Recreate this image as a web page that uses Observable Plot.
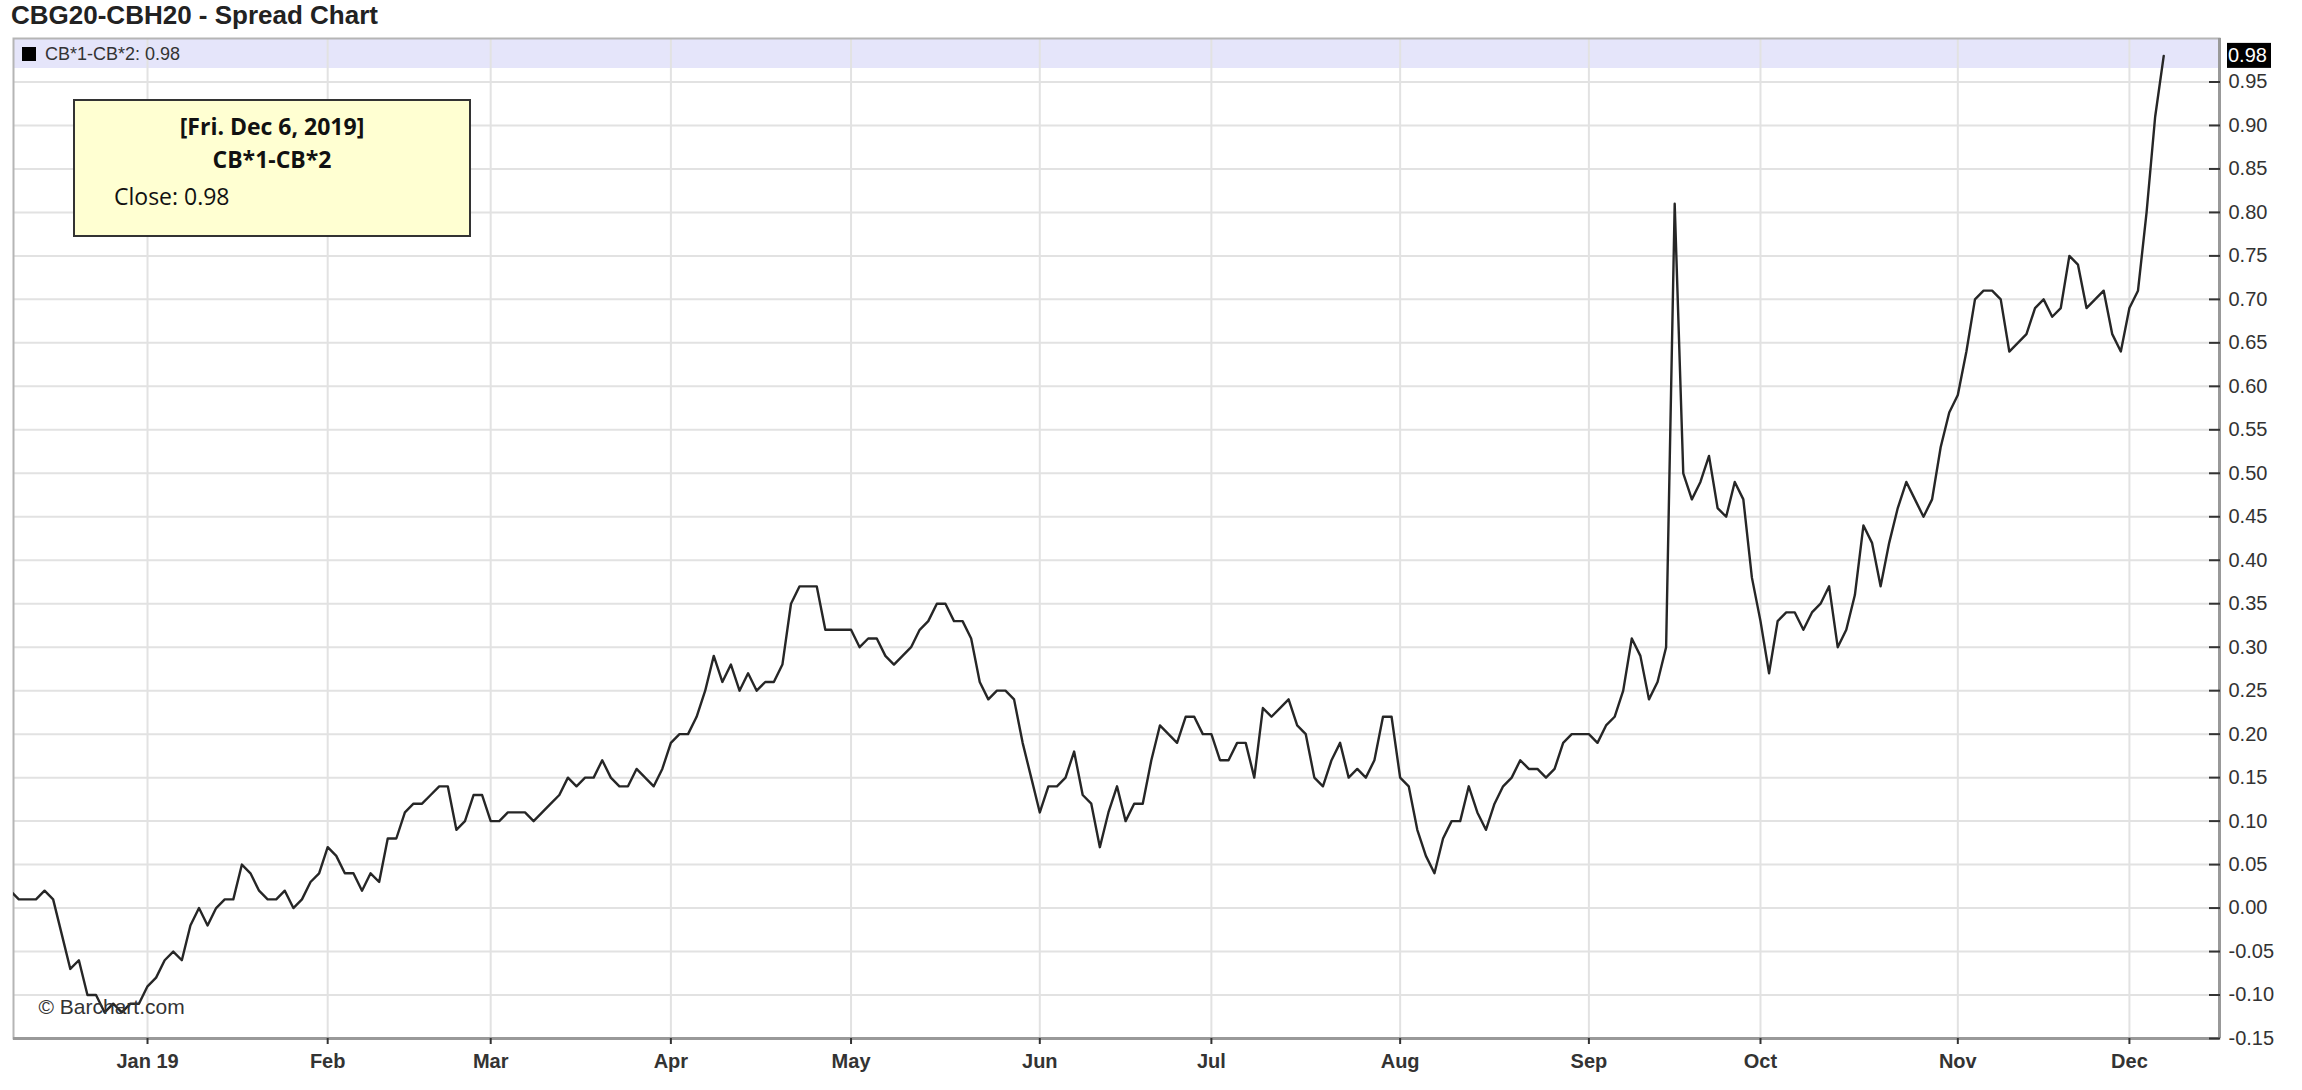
<!DOCTYPE html>
<html><head><meta charset="utf-8">
<script src="https://cdn.jsdelivr.net/npm/d3@7"></script>
<script src="https://cdn.jsdelivr.net/npm/@observablehq/plot@0.6"></script>
<style>
body{margin:0;background:#fff;width:2302px;height:1090px;position:relative;overflow:hidden;font-family:"Liberation Sans",Arial,sans-serif;}
#title{position:absolute;left:11px;top:0;height:30px;line-height:30px;font-size:26px;font-weight:bold;color:#222;white-space:nowrap;}
#chart{position:absolute;left:0;top:30px;}
#tip{position:absolute;left:73px;top:99px;width:394px;height:134px;background:#ffffd2;border:2px solid #333;font-family:"Open Sans",sans-serif;font-size:23px;color:#111;}
#tip div{position:absolute;left:0;right:0;height:30px;line-height:30px;white-space:nowrap;}
</style></head>
<body>
<div id="title"></div>
<div id="chart"></div>
<div id="tip"></div>
<script>
// ---- data ----
const chartTitle = "CBG20-CBH20 - Spread Chart";
const seriesName = "CB*1-CB*2";
const lastDate = "Fri. Dec 6, 2019";
const monthLabels = ["Jan 19","Feb","Mar","Apr","May","Jun","Jul","Aug","Sep","Oct","Nov","Dec"];
// trading-day index of the first session of each month (index 0 = Dec 7, 2018)
const monthStartIndex = [16,37,56,77,98,120,140,162,184,204,227,247];
const yTicks = [-0.15,-0.10,-0.05,0.00,0.05,0.10,0.15,0.20,0.25,0.30,0.35,0.40,0.45,0.50,0.55,0.60,0.65,0.70,0.75,0.80,0.85,0.90,0.95];
const yDomain = [-0.15, 1.0];
const xDomain = [0.38, 257.5];
// daily closes of the spread, one per trading day
const closesDec18 = [0.02,0.01,0.01,0.01,0.02,0.01,-0.03,-0.07,-0.06,-0.10,-0.10,-0.12,-0.11,-0.12,-0.11,-0.11];
const closesJan = [-0.09,-0.08,-0.06,-0.05,-0.06,-0.02,0.00,-0.02,0.00,0.01,0.01,0.05,0.04,0.02,0.01,0.01,0.02,0.00,0.01,0.03,0.04];
const closesFeb = [0.07,0.06,0.04,0.04,0.02,0.04,0.03,0.08,0.08,0.11,0.12,0.12,0.13,0.14,0.14,0.09,0.10,0.13,0.13];
const closesMar = [0.10,0.10,0.11,0.11,0.11,0.10,0.11,0.12,0.13,0.15,0.14,0.15,0.15,0.17,0.15,0.14,0.14,0.16,0.15,0.14,0.16];
const closesApr = [0.19,0.20,0.20,0.22,0.25,0.29,0.26,0.28,0.25,0.27,0.25,0.26,0.26,0.28,0.35,0.37,0.37,0.37,0.32,0.32,0.32];
const closesMay = [0.32,0.30,0.31,0.31,0.29,0.28,0.29,0.30,0.32,0.33,0.35,0.35,0.33,0.33,0.31,0.26,0.24,0.25,0.25,0.24,0.19,0.15];
const closesJun = [0.11,0.14,0.14,0.15,0.18,0.13,0.12,0.07,0.11,0.14,0.10,0.12,0.12,0.17,0.21,0.20,0.19,0.22,0.22,0.20];
const closesJul = [0.20,0.17,0.17,0.19,0.19,0.15,0.23,0.22,0.23,0.24,0.21,0.20,0.15,0.14,0.17,0.19,0.15,0.16,0.15,0.17,0.22,0.22];
const closesAug = [0.15,0.14,0.09,0.06,0.04,0.08,0.10,0.10,0.14,0.11,0.09,0.12,0.14,0.15,0.17,0.16,0.16,0.15,0.16,0.19,0.20,0.20];
const closesSep = [0.20,0.19,0.21,0.22,0.25,0.31,0.29,0.24,0.26,0.30,0.81,0.50,0.47,0.49,0.52,0.46,0.45,0.49,0.47,0.38];
const closesOct = [0.33,0.27,0.33,0.34,0.34,0.32,0.34,0.35,0.37,0.30,0.32,0.36,0.44,0.42,0.37,0.42,0.46,0.49,0.47,0.45,0.47,0.53,0.57];
const closesNov = [0.59,0.64,0.70,0.71,0.71,0.70,0.64,0.65,0.66,0.69,0.70,0.68,0.69,0.75,0.74,0.69,0.70,0.71,0.66,0.64];
const closesDec = [0.69,0.71,0.80,0.91,0.98];

const closes = [].concat(closesDec18, closesJan, closesFeb, closesMar, closesApr, closesMay,
  closesJun, closesJul, closesAug, closesSep, closesOct, closesNov, closesDec);
const series = closes.map((v, i) => ({i, v}));
const lastValue = closes[closes.length - 1];

// ---- decorations ----
function legendBand(index, scales, values, dims) {
  const g = d3.create("svg:g");
  g.append("rect")
    .attr("x", dims.marginLeft).attr("y", dims.marginTop)
    .attr("width", dims.width - dims.marginLeft - dims.marginRight).attr("height", 30)
    .attr("fill", "#e5e5fa");
  return g.node();
}
function legendText(index, scales, values, dims) {
  const g = d3.create("svg:g");
  const cy = dims.marginTop + 16;
  g.append("rect").attr("x", dims.marginLeft + 9).attr("y", cy - 7).attr("width", 14).attr("height", 14).attr("fill", "#000");
  g.append("text").attr("x", dims.marginLeft + 32).attr("y", cy).attr("dy", "0.35em")
    .attr("text-anchor", "start")
    .attr("fill", "#333").attr("font-size", 18).text(`${seriesName}: ${lastValue.toFixed(2)}`);
  return g.node();
}
function lastLabel(index, scales, values, dims) {
  const y = scales.y(lastValue);
  const x = dims.width - dims.marginRight + 9;
  const g = d3.create("svg:g");
  g.append("rect").attr("x", x - 1).attr("y", y - 12.5).attr("width", 44).attr("height", 25).attr("fill", "#000");
  g.append("text").attr("x", x).attr("y", y).attr("dy", "0.35em").attr("fill", "#fff")
    .attr("text-anchor", "start")
    .attr("font-size", 20).text(lastValue.toFixed(2));
  return g.node();
}

const plot = Plot.plot({
  width: 2302, height: 1060,
  marginTop: 8, marginBottom: 52, marginLeft: 13, marginRight: 83,
  style: {fontFamily: '"Liberation Sans", Arial, sans-serif', fontSize: "20px", color: "#333", background: "transparent", overflow: "visible"},
  x: {type: "linear", domain: xDomain, axis: null},
  y: {domain: yDomain, axis: null},
  marks: [
    legendBand,
    Plot.gridY(yTicks, {stroke: "#e2e2e2", strokeOpacity: 1, strokeWidth: 2}),
    Plot.gridX(monthStartIndex, {stroke: "#e2e2e2", strokeOpacity: 1, strokeWidth: 2}),
    Plot.frame({stroke: "#b5b5b5", strokeWidth: 2}),
    Plot.ruleY([yDomain[0]], {stroke: "#999", strokeWidth: 3}),
    Plot.ruleX([xDomain[1]], {stroke: "#999", strokeWidth: 3}),
    Plot.axisY(yTicks, {anchor: "right", tickSize: -11, tickPadding: 20, strokeWidth: 2,
      tickFormat: d => d.toFixed(2), fontSize: 20, fill: "#333", label: null}),
    Plot.axisX(monthStartIndex, {anchor: "bottom", tickSize: 6, tickPadding: 9, strokeWidth: 2,
      tickFormat: d => monthLabels[monthStartIndex.indexOf(d)], fontWeight: "bold", fontSize: 20, fill: "#333", label: null}),
    legendText,
    Plot.line(series, {x: "i", y: "v", stroke: "#262626", strokeWidth: 2.4, clip: true}),
    Plot.text(["© Barchart.com"], {frameAnchor: "bottom-left", dx: 25, dy: -25, textAnchor: "start", fontSize: 21, fill: "#333", text: d => d}),
    lastLabel
  ]
});
document.getElementById("chart").appendChild(plot);
document.getElementById("title").textContent = chartTitle;
const tip = document.getElementById("tip");
tip.innerHTML = "";
const l1 = document.createElement("div"); l1.style.top = "10px"; l1.style.textAlign = "center"; l1.style.fontWeight = "bold"; l1.textContent = `[${lastDate}]`;
const l2 = document.createElement("div"); l2.style.top = "43px"; l2.style.textAlign = "center"; l2.style.fontWeight = "bold"; l2.textContent = seriesName;
const l3 = document.createElement("div"); l3.style.top = "80px"; l3.style.left = "39px"; l3.textContent = `Close: ${lastValue.toFixed(2)}`;
tip.append(l1, l2, l3);
</script>
</body></html>
